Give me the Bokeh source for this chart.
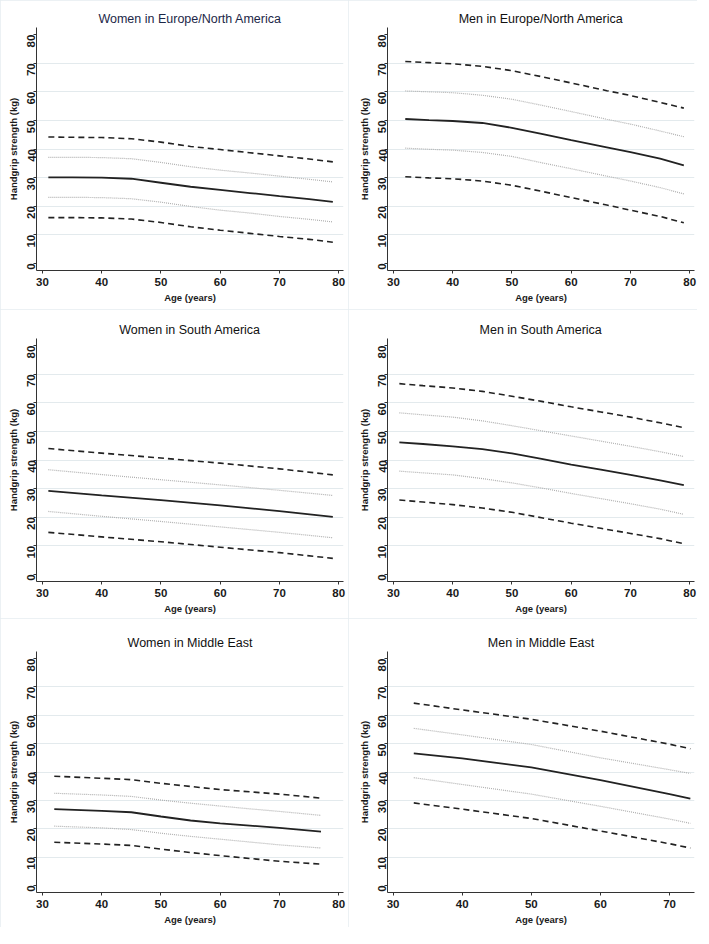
import math
from bokeh.plotting import figure
from bokeh.layouts import gridplot
from bokeh.models import Range1d, FixedTicker
from bokeh.embed import file_html
from bokeh.resources import INLINE

# ---------------- data ----------------
titles = ["Women in Europe/North America", "Men in Europe/North America",
          "Women in South America", "Men in South America",
          "Women in Middle East", "Men in Middle East"]

# Women, Europe/North America
wen_age = [31, 35, 40, 45, 50, 55, 60, 65, 70, 75, 79]
wen_p95 = [44.2, 44.1, 44.0, 43.6, 42.4, 40.9, 39.8, 38.7, 37.6, 36.5, 35.5]
wen_p75 = [37.1, 37.1, 37.0, 36.6, 35.3, 33.8, 32.6, 31.6, 30.5, 29.4, 28.5]
wen_p50 = [30.1, 30.1, 30.0, 29.6, 28.2, 26.8, 25.7, 24.6, 23.5, 22.5, 21.5]
wen_p25 = [23.1, 23.1, 23.0, 22.6, 21.4, 19.9, 18.6, 17.6, 16.4, 15.4, 14.5]
wen_p5 = [16.0, 16.0, 15.9, 15.5, 14.3, 12.8, 11.6, 10.5, 9.4, 8.4, 7.4]

# Men, Europe/North America
men_age = [32, 36, 40, 45, 50, 55, 60, 66, 70, 75, 79]
men_p95 = [70.6, 70.2, 69.8, 68.9, 67.4, 65.3, 63.1, 60.4, 58.7, 56.3, 54.3]
men_p75 = [60.3, 60.0, 59.7, 58.8, 57.4, 55.3, 53.1, 50.4, 48.7, 46.3, 44.3]
men_p50 = [50.5, 50.1, 49.8, 49.1, 47.4, 45.3, 43.1, 40.6, 38.9, 36.6, 34.3]
men_p25 = [40.3, 39.9, 39.6, 38.8, 37.4, 35.2, 33.1, 30.5, 28.8, 26.5, 24.3]
men_p5 = [30.3, 29.9, 29.6, 28.8, 27.3, 25.2, 23.0, 20.4, 18.6, 16.4, 14.2]

# Women, South America
wsa_age = [31, 40, 50, 60, 70, 79]
wsa_p95 = [44.0, 42.4, 40.7, 38.9, 36.9, 34.8]
wsa_p75 = [36.6, 34.9, 33.1, 31.3, 29.4, 27.6]
wsa_p50 = [29.2, 27.6, 26.0, 24.1, 22.1, 20.1]
wsa_p25 = [22.0, 20.3, 18.5, 16.6, 14.7, 12.8]
wsa_p5 = [14.7, 13.1, 11.4, 9.5, 7.6, 5.6]

# Men, South America
msa_age = [31, 35, 40, 45, 50, 55, 60, 65, 70, 75, 79]
msa_p95 = [66.7, 66.0, 65.2, 64.0, 62.3, 60.5, 58.6, 56.8, 55.0, 53.0, 51.3]
msa_p75 = [56.5, 55.8, 55.0, 53.7, 52.0, 50.2, 48.4, 46.6, 44.8, 42.9, 41.2]
msa_p50 = [46.2, 45.6, 44.8, 43.8, 42.3, 40.4, 38.4, 36.6, 34.8, 32.9, 31.2]
msa_p25 = [36.1, 35.5, 34.8, 33.5, 32.0, 30.2, 28.3, 26.5, 24.7, 22.8, 21.0]
msa_p5 = [26.0, 25.3, 24.4, 23.2, 21.7, 19.8, 17.9, 16.1, 14.3, 12.5, 10.7]

# Women, Middle East
wme_age = [32, 40, 45, 50, 55, 60, 65, 70, 77]
wme_p95 = [38.5, 37.8, 37.3, 36.0, 34.9, 33.8, 33.0, 32.2, 30.8]
wme_p75 = [32.5, 31.9, 31.4, 30.1, 29.0, 28.0, 27.0, 26.1, 24.7]
wme_p50 = [26.9, 26.3, 25.8, 24.3, 22.9, 21.9, 21.1, 20.3, 19.0]
wme_p25 = [20.9, 20.3, 19.7, 18.4, 17.3, 16.3, 15.3, 14.3, 13.2]
wme_p5 = [15.2, 14.6, 14.1, 12.8, 11.6, 10.5, 9.5, 8.5, 7.5]

# Men, Middle East
mme_age = [33, 40, 50, 60, 70, 73]
mme_p95 = [64.3, 61.9, 58.6, 54.4, 49.8, 48.2]
mme_p75 = [55.4, 53.1, 49.7, 45.0, 40.8, 39.5]
mme_p50 = [46.6, 44.8, 41.6, 37.1, 32.2, 30.6]
mme_p25 = [38.0, 35.6, 32.2, 27.9, 23.4, 21.9]
mme_p5 = [29.1, 26.9, 23.6, 19.2, 14.7, 13.2]

y_ticks = [0, 10, 20, 30, 40, 50, 60, 70, 80]
x_ticks_long = [30, 40, 50, 60, 70, 80]
x_ticks_short = [30, 40, 50, 60, 70]

panels = [
    (titles[0], wen_age, wen_p95, wen_p75, wen_p50, wen_p25, wen_p5, x_ticks_long, (29.0, 80.8)),
    (titles[1], men_age, men_p95, men_p75, men_p50, men_p25, men_p5, x_ticks_long, (29.0, 80.8)),
    (titles[2], wsa_age, wsa_p95, wsa_p75, wsa_p50, wsa_p25, wsa_p5, x_ticks_long, (29.0, 80.8)),
    (titles[3], msa_age, msa_p95, msa_p75, msa_p50, msa_p25, msa_p5, x_ticks_long, (29.0, 80.8)),
    (titles[4], wme_age, wme_p95, wme_p75, wme_p50, wme_p25, wme_p5, x_ticks_long, (29.0, 80.8)),
    (titles[5], mme_age, mme_p95, mme_p75, mme_p50, mme_p25, mme_p5, x_ticks_short, (29.2, 73.6)),
]

FONT = "Liberation Sans"
ROW_BORDERS = [(27, 39), (29, 37), (33, 30)]   # (top, bottom) per row
COL_BORDERS = [(36, 5), (39, 3)]               # (left, right) per column
COL_WIDTHS = [348, 349]


def make_panel(i, title, age, p95, p75, p50, p25, p5, xt, xr):
    top, bottom = ROW_BORDERS[i // 2]
    left, right = COL_BORDERS[i % 2]
    p = figure(width=COL_WIDTHS[i % 2], height=309, output_backend="svg",
               toolbar_location=None,
               x_range=Range1d(*xr), y_range=Range1d(-2.5, 82.5),
               min_border_left=left, min_border_right=right, min_border_top=top,
               min_border_bottom=bottom,
               styles={"outline": "1px solid #e6edf0", "outline-offset": "-1px"})
    p.title.text = title
    p.title.align = "center"
    p.title.text_font = FONT
    p.title.text_font_size = "12.5px"
    p.title.text_font_style = "normal"
    p.title.text_color = "#1c2748" if i == 0 else "#111111"
    p.title.offset = 0
    p.title.standoff = 3

    p.outline_line_color = None
    p.background_fill_color = "white"
    p.border_fill_color = "white"

    p.xgrid.grid_line_color = None
    p.ygrid.ticker = FixedTicker(ticks=[10, 20, 30, 40, 50, 60, 70])
    p.ygrid.grid_line_color = "#e3eaed"
    p.ygrid.grid_line_width = 1

    p.xaxis.ticker = FixedTicker(ticks=xt)
    p.yaxis.ticker = FixedTicker(ticks=y_ticks)
    p.xaxis.axis_label = "Age (years)"
    p.yaxis.axis_label = "Handgrip strength (kg)"
    p.yaxis.major_label_orientation = math.pi / 2
    for ax in (p.xaxis, p.yaxis):
        ax.axis_line_color = "#333333"
        ax.axis_line_width = 1
        ax.major_tick_line_color = "#333333"
        ax.major_tick_in = 0
        ax.major_tick_out = 3
        ax.minor_tick_line_color = None
        ax.major_label_text_font = FONT
        ax.major_label_text_font_size = "11.5px"
        ax.major_label_text_font_style = "bold"
        ax.major_label_text_color = "#1a1a1a"
        ax.axis_label_text_font = FONT
        ax.axis_label_text_font_size = "9.5px"
        ax.axis_label_text_font_style = "bold"
        ax.axis_label_text_color = "#1a1a1a"
    p.xaxis.major_label_standoff = 4
    p.xaxis.axis_label_standoff = 3
    p.yaxis.major_label_standoff = 2
    p.yaxis.axis_label_standoff = 2

    p.line(age, p95, line_color="#222222", line_width=1.6, line_dash="6 4")
    p.line(age, p5, line_color="#222222", line_width=1.6, line_dash="6 4")
    p.line(age, p75, line_color="#b0b0b0", line_width=1.2, line_dash="1 1")
    p.line(age, p25, line_color="#b0b0b0", line_width=1.2, line_dash="1 1")
    p.line(age, p50, line_color="#222222", line_width=1.8)
    return p


figs = [make_panel(i, *pan) for i, pan in enumerate(panels)]
grid = gridplot([[figs[0], figs[1]], [figs[2], figs[3]], [figs[4], figs[5]]],
                toolbar_location=None)

open("out.html", "w").write(file_html(grid, INLINE))
